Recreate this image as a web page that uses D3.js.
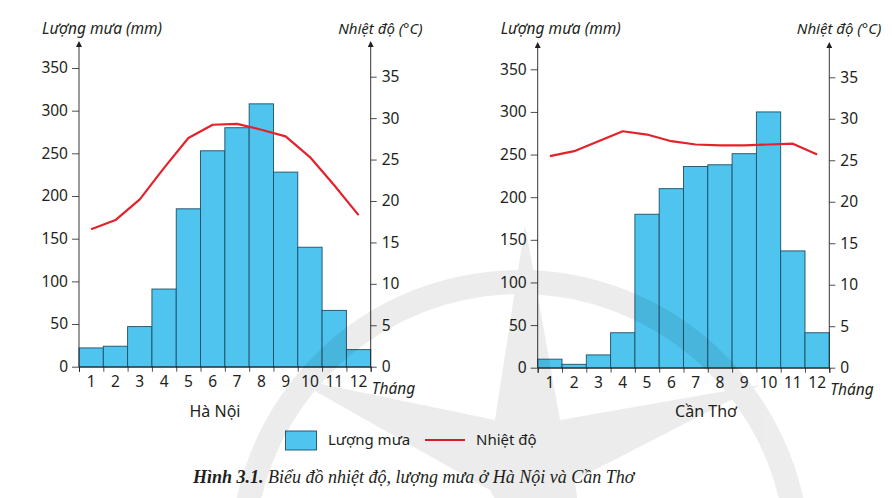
<!DOCTYPE html>
<html>
<head>
<meta charset="utf-8">
<script src="https://cdn.jsdelivr.net/npm/d3@7"></script>
<style>
  body { margin: 0; background: #fff; }
  svg { display: block; font-family: "Noto Sans", sans-serif; }
</style>
</head>
<body>
<svg id="chart" width="892" height="498"></svg>
<script>
// Climate charts: rainfall bars + temperature line, Hà Nội and Cần Thơ

const months = ["1", "2", "3", "4", "5", "6", "7", "8", "9", "10", "11", "12"];
const rainTicks = [0, 50, 100, 150, 200, 250, 300, 350];
const tempTicks = [0, 5, 10, 15, 20, 25, 30, 35];

const hanoiRain = [22, 24, 47, 91, 185, 253, 280, 308, 228, 140, 66, 20];
const hanoiTemp = [16.6, 17.7, 20.2, 24.0, 27.6, 29.2, 29.3, 28.6, 27.8, 25.3, 21.9, 18.3];

const canthoRain = [10, 4, 15, 41, 180, 210, 236, 238, 251, 300, 137, 41];
const canthoTemp = [25.5, 26.1, 27.3, 28.5, 28.1, 27.3, 26.9, 26.8, 26.8, 26.9, 27.0, 25.7];

const BAR_FILL = "#4ec4ef";
const BAR_STROKE = "#1f4f63";
const LINE_RED = "#e3222b";
const INK = "#231f20";

const svg = d3.select("#chart");

// arrow marker for axis tips
svg.append("defs")
  .append("marker")
  .attr("id", "arrow")
  .attr("viewBox", "0 0 10 10")
  .attr("refX", 5)
  .attr("refY", 10)
  .attr("markerWidth", 6)
  .attr("markerHeight", 8)
  .attr("markerUnits", "userSpaceOnUse")
  .attr("orient", "0")
  .append("path")
  .attr("d", "M0,10 L5,0 L10,10 Z")
  .attr("fill", INK);

function drawChart(cfg) {
  const g = svg.append("g");

  const x = d3.scaleBand().domain(months).range([cfg.x0, cfg.x1]).padding(0);
  const xEdge = d3.scaleLinear().domain([0, 12]).range([cfg.x0, cfg.x1]);
  const yRain = d3.scaleLinear().domain([0, 350]).range([cfg.yBase, cfg.yRain350]);
  const yTemp = d3.scaleLinear().domain([0, 35]).range([cfg.yBase, cfg.yTemp35]);

  // bars
  g.selectAll("rect.bar")
    .data(cfg.rain)
    .join("rect")
    .attr("class", "bar")
    .attr("x", (d, i) => x(months[i]))
    .attr("y", (d) => yRain(d))
    .attr("width", x.bandwidth())
    .attr("height", (d) => yRain(0) - yRain(d))
    .attr("fill", BAR_FILL)
    .attr("stroke", BAR_STROKE)
    .attr("stroke-width", 0.9);

  // temperature line
  const line = d3.line()
    .x((d, i) => x(months[i]) + x.bandwidth() / 2)
    .y((d) => yTemp(d));

  g.append("path")
    .datum(cfg.temp)
    .attr("fill", "none")
    .attr("stroke", LINE_RED)
    .attr("stroke-width", 2.2)
    .attr("stroke-linejoin", "round")
    .attr("d", line);

  // left axis (rainfall)
  const leftAxis = g.append("g")
    .attr("transform", `translate(${cfg.x0},0)`)
    .call(d3.axisLeft(yRain).tickValues(rainTicks).tickSize(7).tickPadding(4));
  leftAxis.select(".domain").remove();

  // right axis (temperature)
  const rightAxis = g.append("g")
    .attr("transform", `translate(${cfg.x1},0)`)
    .call(d3.axisRight(yTemp).tickValues(tempTicks).tickSize(6).tickPadding(5));
  rightAxis.select(".domain").remove();

  [leftAxis, rightAxis].forEach((a) => {
    a.selectAll("text").attr("font-size", 15.5).attr("fill", INK)
      .attr("font-family", "'Noto Sans', sans-serif");
    a.selectAll("line").attr("stroke", INK).attr("stroke-width", 0.8);
  });

  // vertical axis lines with arrows
  [cfg.x0, cfg.x1].forEach((ax) => {
    g.append("line")
      .attr("x1", ax).attr("x2", ax)
      .attr("y1", cfg.yBase).attr("y2", cfg.yArrow + 1)
      .attr("stroke", INK)
      .attr("stroke-width", 0.9)
      .attr("marker-end", "url(#arrow)");
  });

  // bottom axis: ticks at month boundaries
  const edgeAxis = g.append("g")
    .attr("transform", `translate(0,${cfg.yBase})`)
    .call(d3.axisBottom(xEdge).ticks(12).tickSize(5).tickFormat(""));
  edgeAxis.select(".domain").attr("stroke", INK).attr("stroke-width", 1);
  edgeAxis.selectAll("line").attr("stroke", INK).attr("stroke-width", 0.8);

  // month labels
  const monthAxis = g.append("g")
    .attr("transform", `translate(0,${cfg.yBase})`)
    .call(d3.axisBottom(x).tickSize(0).tickPadding(9));
  monthAxis.select(".domain").remove();
  monthAxis.selectAll("text").attr("font-size", 15.5).attr("fill", INK)
    .attr("font-family", "'Noto Sans', sans-serif");

  // axis titles
  g.append("text")
    .attr("x", cfg.x0 - 37)
    .attr("y", 34)
    .attr("font-size", 15.5)
    .attr("font-style", "italic")
    .attr("fill", INK)
    .text("Lượng mưa (mm)");

  g.append("text")
    .attr("x", cfg.x1 + 52)
    .attr("y", 34)
    .attr("text-anchor", "end")
    .attr("font-size", 15)
    .attr("font-style", "italic")
    .attr("fill", INK)
    .text("Nhiệt độ (°C)");

  g.append("text")
    .attr("x", cfg.x1 + 1)
    .attr("y", cfg.yBase + 27)
    .attr("font-size", 15.5)
    .attr("font-style", "italic")
    .attr("fill", INK)
    .text("Tháng");

  g.append("text")
    .attr("x", cfg.cityX)
    .attr("y", 417)
    .attr("text-anchor", "middle")
    .attr("font-size", 16)
    .attr("fill", INK)
    .text(cfg.city);
}

drawChart({
  rain: hanoiRain, temp: hanoiTemp, city: "Hà Nội",
  x0: 79, x1: 370.7, yBase: 366.7, yRain350: 68, yTemp35: 76.7, yArrow: 46,
  cityX: 215
});

drawChart({
  rain: canthoRain, temp: canthoTemp, city: "Cần Thơ",
  x0: 537.7, x1: 829.3, yBase: 367.7, yRain350: 69.3, yTemp35: 77.3, yArrow: 47,
  cityX: 706
});

// legend
const legend = svg.append("g");
legend.append("rect")
  .attr("x", 285.5).attr("y", 431)
  .attr("width", 31).attr("height", 19)
  .attr("fill", BAR_FILL)
  .attr("stroke", BAR_STROKE)
  .attr("stroke-width", 0.9);
legend.append("text")
  .attr("x", 328).attr("y", 445)
  .attr("font-size", 15).attr("fill", INK)
  .text("Lượng mưa");
legend.append("line")
  .attr("x1", 425).attr("x2", 465)
  .attr("y1", 440).attr("y2", 440)
  .attr("stroke", LINE_RED)
  .attr("stroke-width", 2.2);
legend.append("text")
  .attr("x", 476).attr("y", 445)
  .attr("font-size", 15).attr("fill", INK)
  .text("Nhiệt độ");

// caption
const caption = svg.append("text")
  .attr("x", 193)
  .attr("y", 483)
  .attr("font-family", "'Liberation Serif', serif")
  .attr("font-style", "italic")
  .attr("font-size", 18)
  .attr("fill", INK);
caption.append("tspan").attr("font-weight", "bold").text("Hình 3.1.");
caption.append("tspan").text(" Biểu đồ nhiệt độ, lượng mưa ở Hà Nội và Cần Thơ");

// faint publisher watermark (ring + compass star) laid over everything
const mark = svg.append("g")
  .attr("pointer-events", "none")
  .attr("opacity", 0.07);
mark.append("circle")
  .attr("cx", 520).attr("cy", 560).attr("r", 278)
  .attr("fill", "none")
  .attr("stroke", "#000")
  .attr("stroke-width", 24);
const star = [
  [525, 225], [560, 420], [760, 385], [575, 480],
  [600, 700], [490, 490], [292, 378], [495, 420]
];
mark.append("path")
  .attr("d", d3.line()(star) + "Z")
  .attr("fill", "#000");
</script>
</body>
</html>
